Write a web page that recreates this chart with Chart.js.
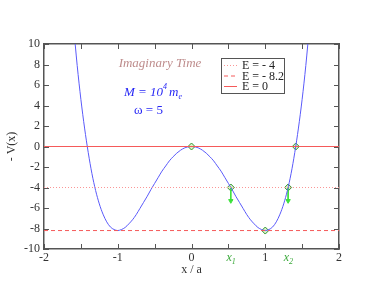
<!DOCTYPE html>
<html>
<head>
<meta charset="utf-8">
<script src="https://cdn.jsdelivr.net/npm/chart.js@4"></script>
<style>
  html, body { margin: 0; padding: 0; background: #fff; }
  #wrap { width: 382px; height: 295px; }
</style>
</head>
<body>
<div id="wrap"><canvas id="chart" width="382" height="295"></canvas></div>
<script>
// potential curve
const xs = [-1.6, -1.55, -1.5, -1.45, -1.4, -1.35, -1.3, -1.25, -1.2, -1.15, -1.1, -1.05, -1.0, -0.95, -0.9, -0.85, -0.8, -0.75,
            -0.7, -0.65, -0.6, -0.55, -0.5, -0.45, -0.4, -0.35, -0.3, -0.25, -0.2, -0.15, -0.1, -0.05,
            0, 0.05, 0.1, 0.15, 0.2, 0.25, 0.3, 0.35, 0.4, 0.45, 0.5, 0.55, 0.6, 0.65, 0.7, 0.75, 0.8, 0.85, 0.9, 0.95,
            1.0, 1.05, 1.1, 1.15, 1.2, 1.25, 1.3, 1.35, 1.4, 1.45, 1.5, 1.55, 1.6];
const minusV = [11.8, 7.9, 4.6, 1.8, -0.6, -2.65, -4.3, -5.6, -6.6, -7.35, -7.85, -8.1, -8.2, -8.1, -7.9, -7.55, -7.15, -6.65,
                -6.05, -5.45, -4.85, -4.2, -3.6, -3.0, -2.4, -1.9, -1.4, -1.0, -0.65, -0.37, -0.16, -0.04,
                0, -0.04, -0.16, -0.37, -0.65, -1.0, -1.4, -1.9, -2.4, -3.0, -3.6, -4.2, -4.85, -5.45, -6.05, -6.65, -7.15, -7.55, -7.9, -8.1,
                -8.2, -8.1, -7.85, -7.35, -6.6, -5.6, -4.3, -2.65, -0.6, 1.8, 4.6, 7.9, 11.8];

const energyLevels = [-4, -8.2, 0];
const energyLabels = ['E = - 4', 'E = - 8.2', 'E = 0'];

const markX = [0, 0.533, 1, 1.414, 1.31];
const markY = [0, -4, -8.2, 0, -4];

const arrowX = [0.533, 1.31];
const arrowFrom = -4;
const arrowTo = -5.3;

const xTicks = [-2, -1.5, -1, -0.5, 0, 0.5, 1, 1.5, 2];
const yTicks = [-10, -8, -6, -4, -2, 0, 2, 4, 6, 8, 10];

const redLine = 'rgb(245,90,90)';
const energyDash = [[1, 2], [4, 3], []];
const energyColor = ['rgb(250,150,150)', redLine, redLine];

const serif = '"Liberation Serif", "DejaVu Serif", serif';
const frameColor = 'rgb(85,85,85)';

const datasets = [];
energyLevels.forEach((e, i) => {
    datasets.push({
        label: energyLabels[i],
        data: [{x: -2, y: e}, {x: 2, y: e}],
        showLine: true,
        borderColor: energyColor[i],
        borderWidth: 1,
        borderDash: energyDash[i],
        pointRadius: 0
    });
});
datasets.push({
    label: 'curve',
    data: xs.map((x, i) => ({x: x, y: minusV[i]})),
    showLine: true,
    borderColor: 'rgb(90,90,250)',
    borderWidth: 1,
    cubicInterpolationMode: 'monotone',
    pointRadius: 0
});
arrowX.forEach(ax => {
    datasets.push({
        label: 'arrow',
        data: [{x: ax, y: arrowFrom}, {x: ax, y: arrowTo}],
        showLine: true,
        borderColor: 'rgb(60,225,60)',
        backgroundColor: 'rgb(60,225,60)',
        borderWidth: 1,
        pointStyle: 'triangle',
        pointRotation: 180,
        pointRadius: [0, 2.5]
    });
});
datasets.push({
    label: 'turning',
    data: markX.map((x, i) => ({x: x, y: markY[i]})),
    showLine: false,
    pointStyle: 'rectRot',
    pointRadius: 3.5,
    borderColor: 'rgb(50,150,50)',
    backgroundColor: 'rgba(190,230,150,0.55)',
    borderWidth: 1
});

function seg(ctx, x1, y1, x2, y2) {
    ctx.beginPath();
    ctx.moveTo(x1, y1);
    ctx.lineTo(x2, y2);
    ctx.stroke();
}

const extras = {
    id: 'extras',
    afterDraw(chart) {
        const ctx = chart.ctx;
        const sx = chart.scales.x, sy = chart.scales.y;
        const a = chart.chartArea;
        ctx.save();
        ctx.setLineDash([]);

        // inward ticks
        ctx.strokeStyle = frameColor;
        ctx.lineWidth = 1;
        xTicks.forEach(v => {
            const px = Math.round(sx.getPixelForValue(v)) + 0.5;
            seg(ctx, px, a.bottom, px, a.bottom - 5);
            seg(ctx, px, a.top, px, a.top + 5);
        });
        yTicks.forEach(v => {
            const py = Math.round(sy.getPixelForValue(v)) + 0.5;
            seg(ctx, a.left, py, a.left + 5, py);
            seg(ctx, a.right, py, a.right - 5, py);
        });

        // annotations
        ctx.textAlign = 'center';
        ctx.textBaseline = 'middle';
        ctx.fillStyle = 'rgb(190,140,140)';
        ctx.font = 'italic 13px ' + serif;
        ctx.fillText('Imaginary Time', 160, 64);

        ctx.fillStyle = 'rgb(40,40,245)';
        ctx.textAlign = 'left';
        ctx.font = 'italic 13px ' + serif;
        ctx.fillText('M = 10', 124, 93);
        let w = ctx.measureText('M = 10').width;
        ctx.font = 'italic 8px ' + serif;
        ctx.fillText('4', 124 + w, 87);
        ctx.font = 'italic 13px ' + serif;
        ctx.fillText('m', 124 + w + 6, 93);
        let w2 = ctx.measureText('m').width;
        ctx.font = 'italic 8px ' + serif;
        ctx.fillText('e', 124 + w + 6 + w2, 97);
        ctx.font = '13px ' + serif;
        ctx.fillText('\u03c9 = 5', 134, 111);

        // x1, x2 labels
        ctx.fillStyle = 'rgb(60,170,60)';
        ['1', '2'].forEach((s, i) => {
            const px = sx.getPixelForValue(arrowX[i]);
            ctx.font = 'italic 12px ' + serif;
            ctx.textAlign = 'right';
            ctx.fillText('x', px + 1, 258);
            ctx.font = 'italic 8px ' + serif;
            ctx.textAlign = 'left';
            ctx.fillText(s, px + 1, 262);
        });

        // legend
        const lx = 221, ly = 58, lw = 63, lh = 35;
        ctx.fillStyle = '#fff';
        ctx.fillRect(lx, ly, lw, lh);
        ctx.strokeStyle = '#555';
        ctx.lineWidth = 1;
        ctx.strokeRect(lx + 0.5, ly + 0.5, lw, lh);
        ctx.font = '12px ' + serif;
        ctx.textAlign = 'left';
        energyLabels.forEach((lab, i) => {
            const yy = ly + 7 + i * 10.5;
            ctx.strokeStyle = energyColor[i];
            ctx.setLineDash(energyDash[i]);
            seg(ctx, lx + 3, yy + 0.5, lx + 16, yy + 0.5);
            ctx.setLineDash([]);
            ctx.fillStyle = '#222';
            ctx.fillText(lab, lx + 21, yy + 1);
        });
        ctx.restore();
    }
};

const axisBorder = { display: true, color: frameColor, width: 1.5 };
const hiddenTicks = { display: false };

new Chart(document.getElementById('chart'), {
    type: 'scatter',
    data: { datasets: datasets },
    options: {
        responsive: false,
        animation: false,
        layout: { padding: { top: 0, right: 0, left: 0, bottom: 0 } },
        plugins: { legend: { display: false }, tooltip: { enabled: false } },
        scales: {
            x: {
                min: -2, max: 2,
                grid: { display: false, drawTicks: false },
                border: axisBorder,
                afterFit(s) { s.height = 46; },
                ticks: {
                    stepSize: 0.5,
                    autoSkip: false,
                    maxRotation: 0,
                    padding: 2,
                    color: '#333',
                    font: { family: serif, size: 12 },
                    callback: v => Number.isInteger(v) ? String(v) : ''
                },
                title: { display: true, text: 'x / a', color: '#333', padding: { top: 0, bottom: 18 }, font: { family: serif, size: 12 } }
            },
            xTop: {
                type: 'linear', position: 'top',
                min: -2, max: 2,
                grid: { display: false, drawTicks: false },
                border: axisBorder,
                ticks: hiddenTicks,
                afterFit(s) { s.height = 44; }
            },
            y: {
                min: -10, max: 10,
                grid: { display: false, drawTicks: false },
                border: axisBorder,
                afterFit(s) { s.width = 44; },
                ticks: {
                    stepSize: 2,
                    padding: 4,
                    color: '#333',
                    font: { family: serif, size: 12 }
                },
                title: { display: true, text: '- V(x)', color: '#333', padding: { top: 5, bottom: 0 }, font: { family: serif, size: 12 } }
            },
            yRight: {
                type: 'linear', position: 'right',
                min: -10, max: 10,
                grid: { display: false, drawTicks: false },
                border: axisBorder,
                ticks: hiddenTicks,
                afterFit(s) { s.width = 43; }
            }
        }
    },
    plugins: [extras]
});
</script>
</body>
</html>
